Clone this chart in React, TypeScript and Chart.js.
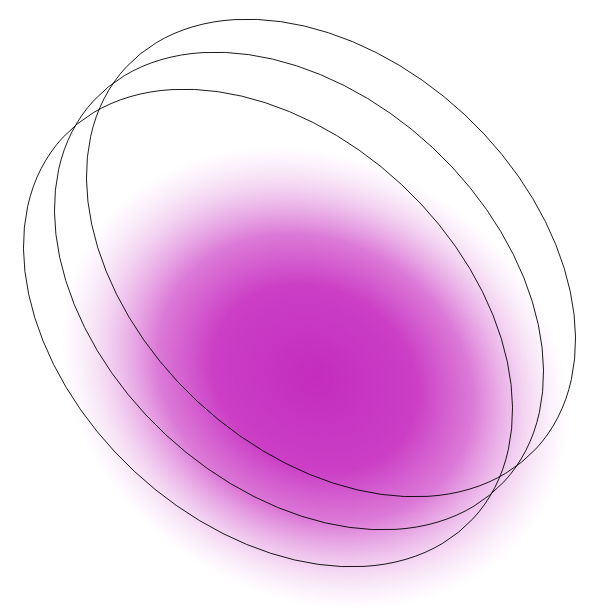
import { useEffect, useRef } from 'react';
import Chart from 'chart.js/auto';

// ellipse outlines: centre, semi-axes, rotation (degrees)
const ringX = [331, 299, 268];
const ringY = [258, 291, 328];
const ringA = [280, 280, 280];
const ringB = [196, 196, 196];
const ringAngle = [43, 43, 43];

// blurred blob
const blobX = [315];
const blobY = [378];
const blobRx = [265];
const blobRy = [220];
const blobAngle = [30];

const ellipsePlugin = {
  id: 'ellipses',
  beforeDatasetsDraw(chart: any) {
    const { ctx, scales } = chart;
    const sx = scales.x, sy = scales.y;
    const px = (v: number) => sx.getPixelForValue(v);
    const py = (v: number) => sy.getPixelForValue(v);
    const kx = Math.abs(px(1) - px(0));
    const ky = Math.abs(py(1) - py(0));

    blobX.forEach((_, i) => {
      ctx.save();
      ctx.translate(px(blobX[i]), py(blobY[i]));
      ctx.rotate((blobAngle[i] * Math.PI) / 180);
      ctx.scale(1, (blobRy[i] * ky) / (blobRx[i] * kx));
      const r = blobRx[i] * kx;
      const g = ctx.createRadialGradient(0, 0, 0, 0, 0, r);
      g.addColorStop(0, 'rgba(196,44,190,1)');
      g.addColorStop(0.4, 'rgba(200,52,194,0.95)');
      g.addColorStop(0.62, 'rgba(206,70,200,0.72)');
      g.addColorStop(0.82, 'rgba(215,110,210,0.3)');
      g.addColorStop(1, 'rgba(230,160,230,0)');
      ctx.fillStyle = g;
      ctx.beginPath();
      ctx.arc(0, 0, r, 0, Math.PI * 2);
      ctx.fill();
      ctx.restore();
    });

    ringX.forEach((_, i) => {
      ctx.save();
      ctx.strokeStyle = '#000';
      ctx.lineWidth = 0.9;
      ctx.beginPath();
      ctx.ellipse(px(ringX[i]), py(ringY[i]), ringA[i] * kx, ringB[i] * ky, (ringAngle[i] * Math.PI) / 180, 0, Math.PI * 2);
      ctx.stroke();
      ctx.restore();
    });
  },
};

export default function App() {
  const canvasRef = useRef<HTMLCanvasElement>(null);
  const chartRef = useRef<Chart | null>(null);

  useEffect(() => {
    document.body.style.margin = '0';
    if (!canvasRef.current) return;
    if (chartRef.current) chartRef.current.destroy();
    const ctx = canvasRef.current.getContext('2d');
    if (!ctx) return;

    chartRef.current = new Chart(ctx, {
      type: 'scatter',
      data: { datasets: [{ data: ringX.map((x, i) => ({ x, y: ringY[i] })), pointRadius: 0 }] },
      options: {
        animation: false,
        responsive: true,
        maintainAspectRatio: false,
        layout: { padding: 0 },
        plugins: { legend: { display: false }, tooltip: { enabled: false } },
        scales: {
          x: { type: 'linear', min: 0, max: 598, display: false },
          y: { type: 'linear', min: 0, max: 611, reverse: true, display: false },
        },
      },
      plugins: [ellipsePlugin],
    });

    return () => {
      if (chartRef.current) chartRef.current.destroy();
    };
  }, []);

  return (
    <div style={{ width: '598px', height: '611px', background: '#fff' }}>
      <canvas ref={canvasRef} />
    </div>
  );
}
